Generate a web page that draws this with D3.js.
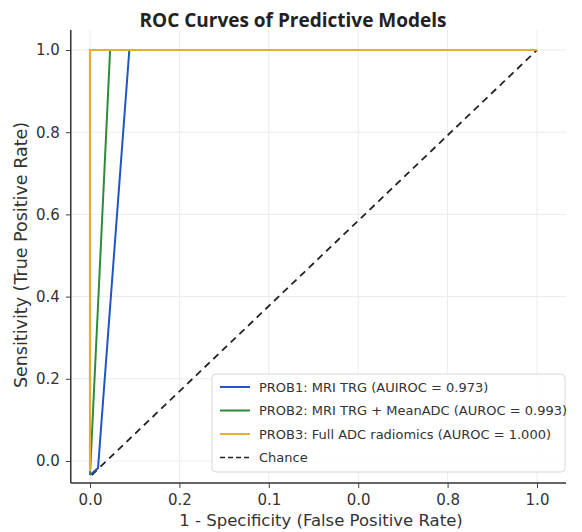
<!DOCTYPE html>
<html>
<head>
<meta charset="utf-8">
<script src="https://cdn.jsdelivr.net/npm/d3@7"></script>
<style>
  body { margin: 0; background: #fff; }
  svg { display: block; }
</style>
</head>
<body>
<div id="chart"></div>
<script>
// data
var xTickValues = [0, 0.2, 0.4, 0.6, 0.8, 1.0];
var xTickLabels = ['0.0', '0.2', '0.1', '0.0', '0.8', '1.0'];   // as printed
var yTickValues = [0, 0.2, 0.4, 0.6, 0.8, 1.0];

var prob1 = [[0, -0.034], [0.018, -0.017], [0.088, 1.0], [1.0, 1.0]];
var prob2 = [[0, -0.034], [0.045, 1.0], [1.0, 1.0]];
var prob3 = [[0, -0.025], [0, 1.0], [1.0, 1.0]];
var chance = [[0.004, -0.034], [1.0, 1.0]];

var seriesNames = [
    'PROB1: MRI TRG (AUIROC = 0.973)',
    'PROB2: MRI TRG + MeanADC (AUROC = 0.993)',
    'PROB3: Full ADC radiomics (AUROC = 1.000)',
    'Chance'
];
var seriesColors = ['#2255c4', '#2f8a3c', '#e6ad2e', '#222'];

var width = 582, height = 532;

var svg = d3.select('#chart').append('svg')
    .attr('width', width)
    .attr('height', height)
    .style('font-family', 'DejaVu Sans, sans-serif');

// x: 0 -> 90px, 1 -> 537px ; y: 0 -> 461px, 1 -> 50px
var x = d3.scaleLinear().domain([0, 1]).range([90, 537]);
var y = d3.scaleLinear().domain([0, 1]).range([461, 50]);
var x0 = x(-0.043), x1 = 566;
var yBottom = 483, yTop = 30;

// grid
svg.append('g').selectAll('line')
    .data(xTickValues).enter().append('line')
    .attr('x1', d => x(d)).attr('x2', d => x(d))
    .attr('y1', yTop).attr('y2', yBottom)
    .attr('stroke', '#ececec').attr('stroke-width', 1);
svg.append('g').selectAll('line')
    .data(yTickValues).enter().append('line')
    .attr('x1', x0).attr('x2', x1)
    .attr('y1', d => y(d)).attr('y2', d => y(d))
    .attr('stroke', '#ececec').attr('stroke-width', 1);

// axes
var xAxis = d3.axisBottom(x)
    .tickValues(xTickValues)
    .tickFormat((d, i) => xTickLabels[i])
    .tickSize(5).tickPadding(6);
var yAxis = d3.axisLeft(y)
    .tickValues(yTickValues)
    .tickFormat(d3.format('.1f'))
    .tickSize(5).tickPadding(6);

var gx = svg.append('g').attr('transform', 'translate(0,' + yBottom + ')').call(xAxis);
var gy = svg.append('g').attr('transform', 'translate(' + x0 + ',0)').call(yAxis);
[gx, gy].forEach(function(g) {
    g.select('.domain').remove();
    g.selectAll('line').attr('stroke', '#444');
    g.selectAll('text').attr('fill', '#333').style('font-size', '15px')
        .style('font-family', 'DejaVu Sans, sans-serif');
});

// spines
svg.append('line').attr('x1', x0).attr('x2', x1).attr('y1', yBottom).attr('y2', yBottom)
    .attr('stroke', '#333').attr('stroke-width', 1.5);
svg.append('line').attr('x1', x0).attr('x2', x0).attr('y1', yTop).attr('y2', yBottom)
    .attr('stroke', '#333').attr('stroke-width', 1.5);

// curves
var line = d3.line().x(d => x(d[0])).y(d => y(d[1]));
svg.append('path').datum(chance).attr('d', line)
    .attr('fill', 'none').attr('stroke', seriesColors[3]).attr('stroke-width', 1.8)
    .attr('stroke-dasharray', '7,5');
svg.append('path').datum(prob1).attr('d', line)
    .attr('fill', 'none').attr('stroke', seriesColors[0]).attr('stroke-width', 2);
svg.append('path').datum(prob2).attr('d', line)
    .attr('fill', 'none').attr('stroke', seriesColors[1]).attr('stroke-width', 2);
svg.append('path').datum(prob3).attr('d', line)
    .attr('fill', 'none').attr('stroke', seriesColors[2]).attr('stroke-width', 2.2);

// title and labels
svg.append('text')
    .attr('x', 293).attr('y', 27)
    .attr('text-anchor', 'middle')
    .style('font-family', 'Open Sans, sans-serif')
    .style('font-weight', 'bold').style('font-size', '19px')
    .attr('fill', '#222')
    .text('ROC Curves of Predictive Models');

svg.append('text')
    .attr('x', 321).attr('y', 526)
    .attr('text-anchor', 'middle')
    .style('font-size', '16.5px').attr('fill', '#333')
    .text('1 - Specificity (False Positive Rate)');

svg.append('text')
    .attr('transform', 'translate(27,' + 255 + ') rotate(-90)')
    .attr('text-anchor', 'middle')
    .style('font-size', '17.5px').attr('fill', '#333')
    .text('Sensitivity (True Positive Rate)');

// legend
var lg = svg.append('g').attr('transform', 'translate(212,374)');
lg.append('rect')
    .attr('width', 353).attr('height', 98)
    .attr('rx', 4)
    .attr('fill', '#fff').attr('fill-opacity', 0.9)
    .attr('stroke', '#d8d8d8');
var items = lg.selectAll('g.item')
    .data(seriesNames).enter().append('g')
    .attr('class', 'item')
    .attr('transform', (d, i) => 'translate(0,' + (13 + i * 23.5) + ')');
items.append('line')
    .attr('x1', 8).attr('x2', 38)
    .attr('stroke', (d, i) => seriesColors[i])
    .attr('stroke-width', (d, i) => i === 3 ? 1.6 : 2)
    .attr('stroke-dasharray', (d, i) => i === 3 ? '5,3' : null);
items.append('text')
    .attr('x', 47).attr('dy', '0.35em')
    .style('font-size', '13px').attr('fill', '#333')
    .text(d => d);
</script>
</body>
</html>
